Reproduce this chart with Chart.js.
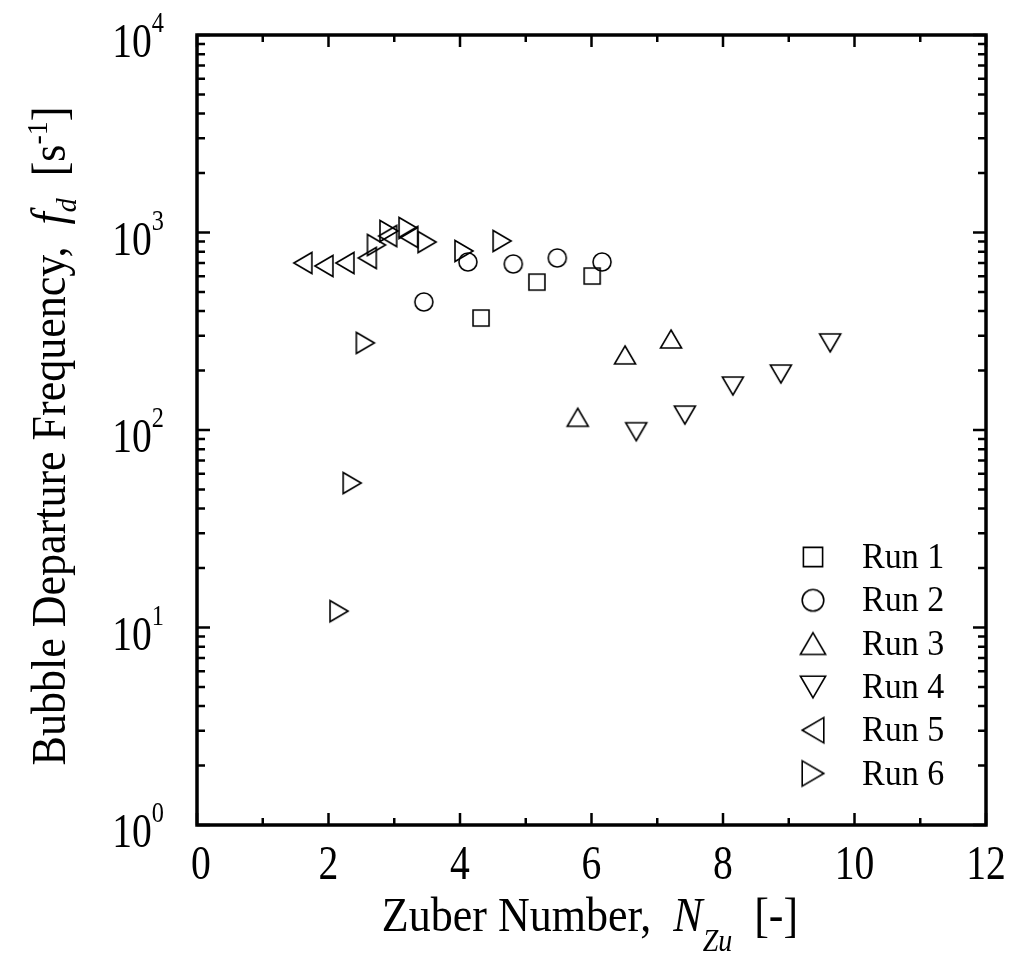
<!DOCTYPE html>
<html><head><meta charset="utf-8">
<script src="https://cdn.jsdelivr.net/npm/chart.js@4/dist/chart.umd.min.js"></script>
<style>html,body{margin:0;padding:0;background:#fff;}#wrap{width:1018px;height:962px;}</style>
</head><body><div id="wrap"><canvas id="c" width="1018" height="962"></canvas></div>
<script>
// ---------- data ----------
const seriesLabels = ['Run 1', 'Run 2', 'Run 3', 'Run 4', 'Run 5', 'Run 6'];
const seriesMarkers = ['square', 'circle', 'up', 'down', 'left', 'right'];
const run1X = [4.32, 5.17, 6.01];
const run1Y = [369, 561, 602];
const run2X = [3.45, 4.12, 4.81, 5.48, 6.16];
const run2Y = [445, 709, 693, 743, 709];
const run3X = [5.79, 6.51, 7.21];
const run3Y = [116, 240, 289];
const run4X = [6.68, 7.42, 8.15, 8.88, 9.63];
const run4Y = [98, 119, 167, 192, 276];
const run5X = [1.61, 1.93, 2.25, 2.59, 2.90, 3.22];
const run5Y = [701, 677, 701, 743, 960, 949];
const run6X = [2.16, 2.36, 2.56, 2.73, 2.92, 3.21, 3.50, 4.06, 4.64];
const run6Y = [12.1, 53.9, 276, 865, 1018, 1054, 895, 806, 906];
const xMajorTicks = [0, 2, 4, 6, 8, 10, 12];
const xMinorTicks = [1, 3, 5, 7, 9, 11];
const yMajorTicks = [1, 10, 100, 1000, 10000];
const yTickBase = '10';
const yTickExponents = ['0', '1', '2', '3', '4'];
const xTitleParts = [
  {t: 'Zuber Number,  ', s: 44},
  {t: 'N', s: 44, i: true},
  {t: 'Zu', s: 28, i: true, dy: 20},
  {t: '  [-]', s: 44}
];
const yTitleParts = [
  {t: 'Bubble Departure Frequency,  ', s: 44},
  {t: 'f', s: 44, i: true},
  {t: 'd', s: 28, i: true, dy: 11},
  {t: '  [s', s: 44},
  {t: '-1', s: 28, dy: -18},
  {t: ']', s: 44}
];

const allX = [run1X, run2X, run3X, run4X, run5X, run6X];
const allY = [run1Y, run2Y, run3Y, run4Y, run5Y, run6Y];
const FONT = '"Liberation Serif", "Times New Roman", serif';

// ---------- marker images ----------
function makeMarker(kind, k) {
  const w = Math.ceil(30 * k) + 4;
  const c = document.createElement('canvas');
  c.width = w; c.height = w;
  const g = c.getContext('2d');
  const cx = w / 2, cy = w / 2;
  g.strokeStyle = '#000';
  g.lineWidth = 1.6;
  g.beginPath();
  if (kind === 'square') {
    g.rect(cx - 8 * k, cy - 8 * k, 16 * k, 16 * k);
  } else if (kind === 'circle') {
    g.arc(cx, cy, 9 * k, 0, Math.PI * 2);
  } else if (kind === 'up') {
    g.moveTo(cx, cy - 9 * k); g.lineTo(cx + 10.5 * k, cy + 9 * k); g.lineTo(cx - 10.5 * k, cy + 9 * k); g.closePath();
  } else if (kind === 'down') {
    g.moveTo(cx, cy + 9 * k); g.lineTo(cx + 10.5 * k, cy - 9 * k); g.lineTo(cx - 10.5 * k, cy - 9 * k); g.closePath();
  } else if (kind === 'left') {
    g.moveTo(cx - 9 * k, cy); g.lineTo(cx + 9 * k, cy - 10.5 * k); g.lineTo(cx + 9 * k, cy + 10.5 * k); g.closePath();
  } else if (kind === 'right') {
    g.moveTo(cx + 9 * k, cy); g.lineTo(cx - 9 * k, cy - 10.5 * k); g.lineTo(cx - 9 * k, cy + 10.5 * k); g.closePath();
  }
  g.stroke();
  return c;
}
const dataMarkers = seriesMarkers.map(m => makeMarker(m, 1));
const legendMarkers = seriesMarkers.map(m => makeMarker(m, 1.2));

// ---------- helpers ----------
function stretchText(ctx, text, x, y, sx, sy) {
  ctx.save();
  ctx.translate(x, y);
  ctx.scale(sx, sy);
  ctx.fillText(text, 0, 0);
  ctx.restore();
}
function drawParts(ctx, parts, x0, y0, sx, sy) {
  let x = x0;
  parts.forEach(p => {
    ctx.font = (p.i ? 'italic ' : '') + p.s + 'px ' + FONT;
    stretchText(ctx, p.t, x, y0 + (p.dy || 0), sx, sy);
    x += ctx.measureText(p.t).width * sx;
  });
}
function partsWidth(ctx, parts, sx) {
  let w = 0;
  parts.forEach(p => { ctx.font = (p.i ? 'italic ' : '') + p.s + 'px ' + FONT; w += ctx.measureText(p.t).width * sx; });
  return w;
}

const framePlugin = {
  id: 'frame',
  afterDraw(chart) {
    const ctx = chart.ctx;
    const a = chart.chartArea;
    const xs = chart.scales.x, ys = chart.scales.y;
    ctx.save();
    ctx.strokeStyle = '#000';
    ctx.fillStyle = '#000';
    // ticks
    ctx.lineWidth = 2.5;
    ctx.beginPath();
    const xt = (v, len) => {
      const px = xs.getPixelForValue(v);
      ctx.moveTo(px, a.bottom); ctx.lineTo(px, a.bottom - len);
      ctx.moveTo(px, a.top); ctx.lineTo(px, a.top + len);
    };
    xMajorTicks.forEach(v => xt(v, 12));
    xMinorTicks.forEach(v => xt(v, 7));
    const yt = (v, len) => {
      const py = ys.getPixelForValue(v);
      ctx.moveTo(a.left, py); ctx.lineTo(a.left + len, py);
      ctx.moveTo(a.right, py); ctx.lineTo(a.right - len, py);
    };
    yMajorTicks.forEach(v => yt(v, 13));
    for (let d = 0; d < yMajorTicks.length - 1; d++) {
      for (let m = 2; m <= 9; m++) yt(yMajorTicks[d] * m, 8);
    }
    ctx.stroke();
    // frame
    ctx.lineWidth = 3.5;
    ctx.strokeRect(a.left, a.top, a.right - a.left, a.bottom - a.top);

    // x tick labels
    ctx.textAlign = 'center';
    ctx.textBaseline = 'alphabetic';
    ctx.font = '44px ' + FONT;
    xMajorTicks.forEach(v => {
      stretchText(ctx, String(v), xs.getPixelForValue(v) + (v === 0 ? 4 : 0), a.bottom + 54, 0.9, 1.08);
    });
    // y tick labels
    ctx.textAlign = 'right';
    yMajorTicks.forEach((v, i) => {
      const py = ys.getPixelForValue(v);
      ctx.font = '27px ' + FONT;
      const ew = ctx.measureText(yTickExponents[i]).width * 0.9;
      stretchText(ctx, yTickExponents[i], 164, py - 3, 0.9, 1.08);
      ctx.font = '44px ' + FONT;
      stretchText(ctx, yTickBase, 164 - ew, py + 22, 0.9, 1.08);
    });

    // axis titles
    ctx.textAlign = 'left';
    const xw = partsWidth(ctx, xTitleParts, 1.0);
    drawParts(ctx, xTitleParts, 590 - xw / 2, 931, 1.0, 1.1);
    ctx.save();
    ctx.translate(65, 436);
    ctx.rotate(-Math.PI / 2);
    const yw = partsWidth(ctx, yTitleParts, 1.0);
    drawParts(ctx, yTitleParts, -yw / 2, 0, 1.0, 1.08);
    ctx.restore();

    // legend
    ctx.font = '34px ' + FONT;
    chart.data.datasets.forEach((ds, i) => {
      const cy = 557 + 43.3 * i;
      const img = legendMarkers[i];
      ctx.drawImage(img, 813 - img.width / 2, cy - img.height / 2);
      stretchText(ctx, ds.label, 862, cy + 11, 1.0, 1.05);
    });
    ctx.restore();
  }
};

new Chart(document.getElementById('c'), {
  type: 'scatter',
  data: {
    datasets: seriesLabels.map((label, i) => ({
      label: label,
      data: allX[i].map((x, j) => ({x: x, y: allY[i][j]})),
      pointStyle: dataMarkers[i],
      pointRadius: 10,
      pointHoverRadius: 10,
      borderColor: '#000',
      backgroundColor: 'rgba(0,0,0,0)',
      showLine: false
    }))
  },
  options: {
    responsive: false,
    animation: false,
    events: [],
    layout: {padding: {left: 197, right: 32, top: 35, bottom: 137}},
    plugins: {legend: {display: false}, tooltip: {enabled: false}},
    scales: {
      x: {type: 'linear', min: 0, max: 12, display: false},
      y: {type: 'logarithmic', min: 1, max: 10000, display: false}
    }
  },
  plugins: [framePlugin]
});
</script>
</body></html>
